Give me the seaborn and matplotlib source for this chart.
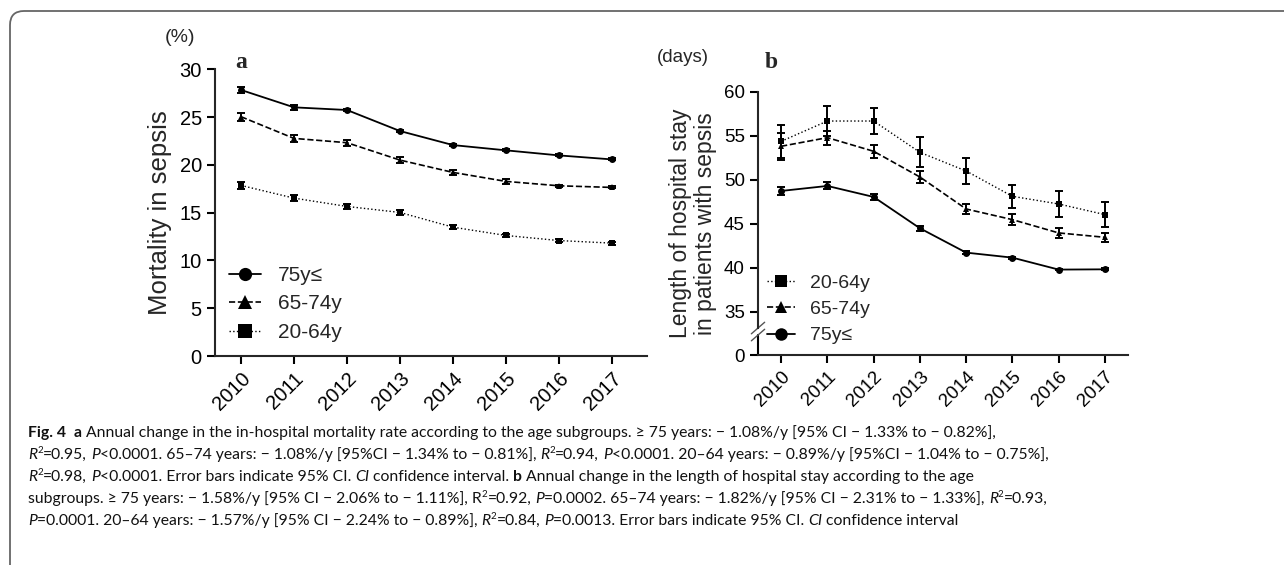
import numpy as np
import pandas as pd
import matplotlib
matplotlib.use('Agg')
import matplotlib.pyplot as plt
import matplotlib.transforms as mtransforms
from matplotlib.lines import Line2D
from matplotlib.patches import FancyBboxPatch
import seaborn as sns

# data
years = [2010, 2011, 2012, 2013, 2014, 2015, 2016, 2017]

mort_75 = [27.84, 26.02, 25.74, 23.54, 22.07, 21.52, 20.99, 20.57]
mort_75_ci = [0.3, 0.25, 0.12, 0.12, 0.12, 0.1, 0.1, 0.1]
mort_65 = [25.04, 22.77, 22.32, 20.50, 19.21, 18.27, 17.81, 17.64]
mort_65_ci = [0.43, 0.35, 0.3, 0.3, 0.25, 0.25, 0.1, 0.1]
mort_20 = [17.85, 16.52, 15.65, 15.02, 13.48, 12.61, 12.08, 11.81]
mort_20_ci = [0.35, 0.35, 0.3, 0.25, 0.2, 0.15, 0.15, 0.15]

los_20 = [54.39, 56.70, 56.70, 53.14, 51.02, 48.14, 47.27, 46.06]
los_20_ci = [1.9, 1.72, 1.5, 1.7, 1.46, 1.3, 1.5, 1.38]
los_65 = [53.83, 54.81, 53.26, 50.34, 46.70, 45.49, 43.98, 43.48]
los_65_ci = [1.53, 0.78, 0.74, 0.72, 0.57, 0.6, 0.57, 0.53]
los_75 = [48.75, 49.32, 48.07, 44.51, 41.74, 41.17, 39.81, 39.84]
los_75_ci = [0.5, 0.4, 0.38, 0.3, 0.15, 0.12, 0.1, 0.1]

groups = ['75y\u2264', '65-74y', '20-64y']
styles = {'75y\u2264': ('-', 'o', 1.3),
          '65-74y': ('--', '^', 1.2),
          '20-64y': (':', 's', 1.0)}

sns.set_style('ticks')
plt.rcParams['font.family'] = ['Liberation Sans', 'DejaVu Sans']

fig = plt.figure(figsize=(12.84, 5.65), dpi=100)
W, H = 1284, 565


def ax_rect(x0, x1, ytop, ybot):
    return [x0 / W, 1 - ybot / H, (x1 - x0) / W, (ybot - ytop) / H]


def draw_group(ax, vals, ci, name, ms):
    ls, mk, lw = styles[name]
    df = pd.DataFrame({'year': years, 'value': vals})
    sns.lineplot(data=df, x='year', y='value', ax=ax, color='black',
                 linestyle=ls, linewidth=lw, marker=mk, markersize=ms,
                 markeredgewidth=0, errorbar=None)
    ax.errorbar(years, vals, yerr=ci, fmt='none', ecolor='black',
                elinewidth=1.4, capsize=2.6, capthick=1.4)


def style_axes(ax, fs):
    for s in ['top', 'right']:
        ax.spines[s].set_visible(False)
    for s in ['left', 'bottom']:
        ax.spines[s].set_linewidth(1.5)
    ax.tick_params(width=1.5, length=6, labelsize=fs, colors='black')
    ax.set_xticks(years)
    ax.set_xticklabels([str(y) for y in years], rotation=45, ha='right',
                       rotation_mode='anchor')
    ax.set_xlabel('')


def legend_handles(order, ms):
    hs = []
    for g in order:
        ls, mk, lw = styles[g]
        hs.append(Line2D([], [], color='black', linestyle=ls, linewidth=lw,
                         marker=mk, markersize=ms, markeredgewidth=0))
    return hs


# ---------- panel a ----------
ax1 = fig.add_axes(ax_rect(215, 647, 69.3, 356))
draw_group(ax1, mort_75, mort_75_ci, '75y\u2264', 5)
draw_group(ax1, mort_65, mort_65_ci, '65-74y', 5)
draw_group(ax1, mort_20, mort_20_ci, '20-64y', 5)
ax1.set_xlim(2009.51, 2017.66)
ax1.set_ylim(0, 30)
ax1.set_yticks([0, 5, 10, 15, 20, 25, 30])
style_axes(ax1, 14.5)
ax1.set_ylabel('Mortality in sepsis', fontsize=18.5, labelpad=5)
ax1.legend(legend_handles(groups, 9.5), groups, loc='lower left',
           bbox_to_anchor=(-0.012, -0.016), frameon=False, fontsize=15,
           handlelength=1.55, handletextpad=0.8, labelspacing=0.45)
fig.text(180 / W, 1 - 37 / H, '(%)', fontsize=14, ha='center', va='center')
fig.text(241 / W, 1 - 62 / H, 'a', fontsize=17, fontweight='bold',
         family='Liberation Serif', ha='center', va='center')

# ---------- panel b (broken y axis) ----------
C = 4.9


def fwd(y):
    y = np.asarray(y, dtype=float)
    return np.where(y < 35, y * C / 35, y - 35 + C)


def inv(v):
    v = np.asarray(v, dtype=float)
    return np.where(v < C, v * 35 / C, v + 35 - C)


ax2 = fig.add_axes(ax_rect(758, 1128, 92, 355))
ax2.set_yscale('function', functions=(fwd, inv))
draw_group(ax2, los_20, los_20_ci, '20-64y', 5)
draw_group(ax2, los_65, los_65_ci, '65-74y', 4.5)
draw_group(ax2, los_75, los_75_ci, '75y\u2264', 5)
ax2.set_xlim(2009.5, 2017.5)
ax2.set_ylim(0, 60)
ax2.set_yticks([0, 35, 40, 45, 50, 55, 60])
ax2.set_yticklabels(['0', '35', '40', '45', '50', '55', '60'])
ax2.yaxis.set_minor_locator(matplotlib.ticker.NullLocator())
style_axes(ax2, 13.5)
ax2.set_ylabel('Length of hospital stay\nin patients with sepsis',
               fontsize=16.5, labelpad=5, linespacing=1.1)
# break in the y axis
lo, hi = 16.2, 21.9
ax2.spines['left'].set_bounds(hi, 60)
top = float(fwd(60))
ylo, yhi = float(fwd(lo)) / top, float(fwd(hi)) / top
ax2.plot([0, 0], [0, ylo], transform=ax2.transAxes, color='black',
         lw=1.5, clip_on=False)
for yb in (ylo, yhi):
    ax2.plot([-0.018, 0.018], [yb - 0.022, yb + 0.022],
             transform=ax2.transAxes, color='#555555', lw=1.0,
             clip_on=False)
order_b = ['20-64y', '65-74y', '75y\u2264']
ax2.legend(legend_handles(order_b, 9), order_b, loc='lower left',
           bbox_to_anchor=(-0.022, -0.026), frameon=False, fontsize=14,
           handlelength=1.4, handletextpad=0.77, labelspacing=0.45)
fig.text(683 / W, 1 - 58 / H, '(days)', fontsize=13.5, ha='center',
         va='center')
fig.text(771 / W, 1 - 62 / H, 'b', fontsize=17, fontweight='bold',
         family='Liberation Serif', ha='center', va='center')

# ---------- frame ----------
frame = FancyBboxPatch((10, -20), 1400, H - 11 + 20,
                       boxstyle='round,pad=0,rounding_size=14',
                       transform=mtransforms.IdentityTransform(),
                       fill=False, edgecolor='#666666', lw=1.3,
                       clip_on=False)
fig.patches.append(frame)

# ---------- caption ----------
CAP = 11.3
renderer = fig.canvas.get_renderer()


def text_width(s, **kw):
    t = fig.text(0, 0, s, transform=mtransforms.IdentityTransform(), **kw)
    w = t.get_window_extent(renderer).width
    t.remove()
    return w


space_w = text_width('a a', family='Lato', fontsize=CAP) - \
    text_width('aa', family='Lato', fontsize=CAP)


def rich_line(y_px, parts, x_px=28):
    x = x_px
    yb = H - y_px
    for s, st in parts:
        kw = dict(family='Lato', fontsize=CAP, color='#111111')
        yy = yb
        if st == 'b':
            kw['fontweight'] = 'bold'
        elif st == 'i':
            kw['fontstyle'] = 'italic'
        elif st == 'sup':
            kw['fontsize'] = CAP * 0.62
            yy = yb + CAP * 0.55
        core = s.strip(' ')
        if not core:
            x += len(s) * space_w
            continue
        lead = len(s) - len(s.lstrip(' '))
        trail = len(s) - len(s.rstrip(' '))
        x += lead * space_w
        t = fig.text(x, yy, core, transform=mtransforms.IdentityTransform(),
                     va='baseline', ha='left', **kw)
        x = t.get_window_extent(renderer).x1 + trail * space_w


n, b, i, sp = 'n', 'b', 'i', 'sup'
caption = [
    [('Fig. 4', b), ('  ', n), ('a', b),
     (' Annual change in the in-hospital mortality rate according to the age '
      'subgroups. \u2265 75 years: \u2212 1.08%/y [95% CI \u2212 1.33% to '
      '\u2212 0.82%],', n)],
    [('R', i), ('2', sp), ('=0.95, ', n), ('P', i),
     ('<0.0001. 65\u201374 years: \u2212 1.08%/y [95%CI \u2212 1.34% to '
      '\u2212 0.81%], ', n), ('R', i), ('2', sp), ('=0.94, ', n), ('P', i),
     ('<0.0001. 20\u201364 years: \u2212 0.89%/y [95%CI \u2212 1.04% to '
      '\u2212 0.75%],', n)],
    [('R', i), ('2', sp), ('=0.98, ', n), ('P', i),
     ('<0.0001. Error bars indicate 95% CI. ', n), ('CI', i),
     (' confidence interval. ', n), ('b', b),
     (' Annual change in the length of hospital stay according to the age', n)],
    [('subgroups. \u2265 75 years: \u2212 1.58%/y [95% CI \u2212 2.06% to '
      '\u2212 1.11%], R', n), ('2', sp), ('=0.92, ', n), ('P', i),
     ('=0.0002. 65\u201374 years: \u2212 1.82%/y [95% CI \u2212 2.31% to '
      '\u2212 1.33%], ', n), ('R', i), ('2', sp), ('=0.93,', n)],
    [('P', i), ('=0.0001. 20\u201364 years: \u2212 1.57%/y [95% CI \u2212 2.24% '
      'to \u2212 0.89%], ', n), ('R', i), ('2', sp), ('=0.84, ', n), ('P', i),
     ('=0.0013. Error bars indicate 95% CI. ', n), ('CI', i),
     (' confidence interval', n)],
]
for k, line in enumerate(caption):
    rich_line(437 + k * 22, line)

fig.savefig('out.png', dpi=100)
